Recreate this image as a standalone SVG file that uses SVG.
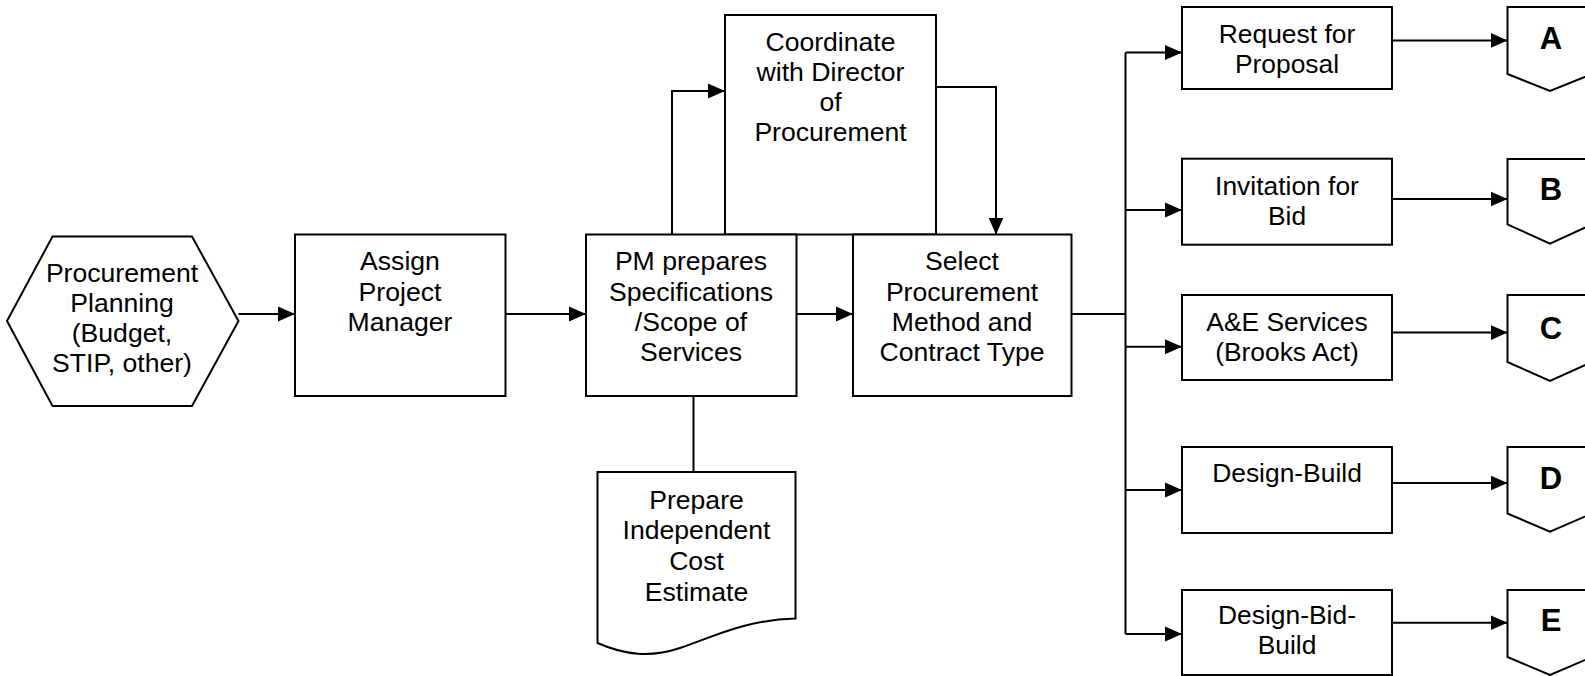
<svg xmlns="http://www.w3.org/2000/svg" width="1585" height="676" viewBox="0 0 1585 676">
<style>
.s{fill:#fff;stroke:#000;stroke-width:2}
.c{fill:none;stroke:#000;stroke-width:2}
.t{font-family:"Liberation Sans",Arial,sans-serif;font-size:26.6px;fill:#000;text-anchor:middle}
.r{font-family:"Liberation Sans",Arial,sans-serif;font-size:26.4px;fill:#000;text-anchor:middle}
.b{font-family:"Liberation Sans",Arial,sans-serif;font-size:31px;font-weight:bold;fill:#000;text-anchor:middle}
</style>
<defs>
<marker id="ah" markerUnits="userSpaceOnUse" markerWidth="17" markerHeight="16" viewBox="0 0 17 16" refX="17" refY="8" orient="auto">
<path d="M0,0.5 L17,8 L0,15.5 Z" fill="#000"/>
</marker>
</defs>
<g id="connectors">
<path class="c" d="M238.5,314 H295" marker-end="url(#ah)"/>
<path class="c" d="M505.5,314 H586" marker-end="url(#ah)"/>
<path class="c" d="M796.5,314 H853" marker-end="url(#ah)"/>
<path class="c" d="M672,234.5 V91 H725" marker-end="url(#ah)"/>
<path class="c" d="M936,87 H996 V234.5" marker-end="url(#ah)"/>
<path class="c" d="M693.5,396 V472"/>
<path class="c" d="M1071.5,314 H1125.5"/>
<path class="c" d="M1125.5,52.6 V634"/>
<path class="c" d="M1125.5,52.6 H1182" marker-end="url(#ah)"/>
<path class="c" d="M1125.5,210 H1182" marker-end="url(#ah)"/>
<path class="c" d="M1125.5,346.7 H1182" marker-end="url(#ah)"/>
<path class="c" d="M1125.5,490 H1182" marker-end="url(#ah)"/>
<path class="c" d="M1125.5,634 H1182" marker-end="url(#ah)"/>
<path class="c" d="M1392,40.4 H1507.5" marker-end="url(#ah)"/>
<path class="c" d="M1392,199 H1507.5" marker-end="url(#ah)"/>
<path class="c" d="M1392,332.6 H1507.5" marker-end="url(#ah)"/>
<path class="c" d="M1392,483 H1507.5" marker-end="url(#ah)"/>
<path class="c" d="M1392,622.7 H1507.5" marker-end="url(#ah)"/>
</g>
<g id="planning">
<polygon class="s" points="7,321 52.5,236.5 192,236.5 238.5,321 192,406 52.5,406"/>
<text class="t" x="122" y="282">Procurement</text>
<text class="t" x="122" y="312">Planning</text>
<text class="t" x="122" y="342">(Budget,</text>
<text class="t" x="122" y="372">STIP, other)</text>
</g>
<g id="assign">
<rect class="s" x="295" y="234.5" width="210.5" height="161.5"/>
<text class="t" x="400" y="270">Assign</text>
<text class="t" x="400" y="300.5">Project</text>
<text class="t" x="400" y="331">Manager</text>
</g>
<g id="coordinate">
<rect class="s" x="725" y="15" width="211" height="219.5"/>
<text class="t" x="830.5" y="51">Coordinate</text>
<text class="t" x="830.5" y="81">with Director</text>
<text class="t" x="830.5" y="111">of</text>
<text class="t" x="830.5" y="141">Procurement</text>
</g>
<g id="pm">
<rect class="s" x="586" y="234.5" width="210.5" height="161.5"/>
<text class="t" x="691" y="270">PM prepares</text>
<text class="t" x="691" y="300.5">Specifications</text>
<text class="t" x="691" y="331">/Scope of</text>
<text class="t" x="691" y="361">Services</text>
</g>
<g id="select">
<rect class="s" x="853" y="234.5" width="218.5" height="161.5"/>
<text class="t" x="962" y="270">Select</text>
<text class="t" x="962" y="300.5">Procurement</text>
<text class="t" x="962" y="331">Method and</text>
<text class="t" x="962" y="361">Contract Type</text>
</g>
<g id="estimate">
<path class="s" d="M597.5,472 H795.5 V618.5 C745,620 715,636 680,648 C650,658 625,655 597.5,643 Z"/>
<text class="t" x="696.5" y="508.5">Prepare</text>
<text class="t" x="696.5" y="539">Independent</text>
<text class="t" x="696.5" y="570">Cost</text>
<text class="t" x="696.5" y="600.5">Estimate</text>
</g>
<g id="rfp">
<rect class="s" x="1182" y="7" width="210" height="82"/>
<text class="r" x="1287" y="43">Request for</text>
<text class="r" x="1287" y="72.5">Proposal</text>
</g>
<g id="ifb">
<rect class="s" x="1182" y="158.7" width="210" height="86"/>
<text class="r" x="1287" y="195">Invitation for</text>
<text class="r" x="1287" y="225">Bid</text>
</g>
<g id="ae">
<rect class="s" x="1182" y="295" width="210" height="85"/>
<text class="r" x="1287" y="330.5">A&amp;E Services</text>
<text class="r" x="1287" y="360.8">(Brooks Act)</text>
</g>
<g id="db">
<rect class="s" x="1182" y="447" width="210" height="86"/>
<text class="r" x="1287" y="481.5">Design-Build</text>
</g>
<g id="dbb">
<rect class="s" x="1182" y="590" width="210" height="85"/>
<text class="r" x="1287" y="623.8">Design-Bid-</text>
<text class="r" x="1287" y="653.5">Build</text>
</g>
<g id="offA">
<polygon class="s" points="1507.5,7 1592,7 1592,74 1550,91 1507.5,74"/>
<text class="b" x="1551" y="48.5">A</text>
</g>
<g id="offB">
<polygon class="s" points="1507.5,159 1592,159 1592,224.4 1550,243.6 1507.5,224.4"/>
<text class="b" x="1551" y="200">B</text>
</g>
<g id="offC">
<polygon class="s" points="1507.5,295 1592,295 1592,362 1550,381 1507.5,362"/>
<text class="b" x="1551" y="338.5">C</text>
</g>
<g id="offD">
<polygon class="s" points="1507.5,447 1592,447 1592,513.5 1550,531.7 1507.5,513.5"/>
<text class="b" x="1551" y="489">D</text>
</g>
<g id="offE">
<polygon class="s" points="1507.5,590 1592,590 1592,657 1550,675 1507.5,657"/>
<text class="b" x="1551" y="630.5">E</text>
</g>
</svg>
